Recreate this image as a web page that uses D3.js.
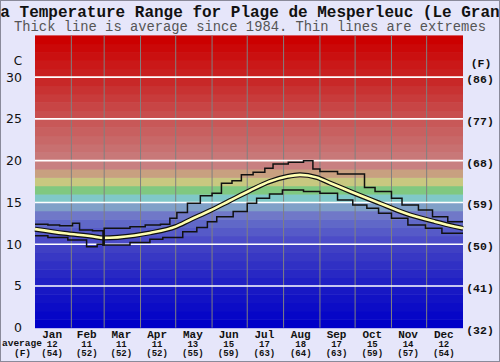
<!DOCTYPE html>
<html>
<head>
<meta charset="utf-8">
<script src="https://cdn.jsdelivr.net/npm/d3@7/dist/d3.min.js"></script>
<style>
  html, body { margin: 0; padding: 0; background: #e6e6fa; }
  svg { display: block; }
</style>
</head>
<body>
<script>
// ---------- data ----------
const title = "Sea Temperature Range for Plage de Mesperleuc (Le Grand)";
const subtitle = "Thick line is average since 1984. Thin lines are extremes";
const months = ["Jan","Feb","Mar","Apr","May","Jun","Jul","Aug","Sep","Oct","Nov","Dec"];
const monthDays = [31,28,31,30,31,30,31,31,30,31,30,31];
const monthAvgC = [12,11,11,11,13,15,17,18,17,15,14,12];
const monthAvgF = [54,52,52,52,55,59,63,64,63,59,57,54];
const cTicks = [0,5,10,15,20,25,30];
const fTickLabels = ["(32)","(41)","(50)","(59)","(68)","(77)","(86)"];

// average (smooth) : day of year -> °C
const avgDays = [0, 25, 51, 58, 85, 98, 120, 132, 149, 166, 183, 200, 215, 226, 240, 252, 269, 294, 316, 341, 365];
const avgVals = [11.8, 11.3, 10.9, 10.75, 11.05, 11.35, 12.1, 12.9, 14.0, 15.2, 16.4, 17.5, 18.1, 18.3, 18.0, 17.3, 16.3, 14.9, 13.7, 12.7, 11.9];

// extremes (step) : start day -> °C
const maxDays = [0, 11, 21, 32, 38, 49, 58, 59, 81, 94, 107, 115, 121, 130, 141, 151, 159, 168, 176, 186, 196, 203, 216, 229, 237, 243, 258, 281, 290, 304, 313, 327, 339, 352];
const maxVals = [12.4, 12.3, 12.2, 12.5, 11.7, 11.6, 9.9, 11.9, 12.1, 12.3, 12.4, 13.1, 13.8, 14.9, 15.8, 16.1, 17.3, 17.6, 18.3, 18.6, 19.1, 19.6, 19.8, 20.0, 19.0, 18.7, 18.4, 16.8, 16.3, 15.5, 14.7, 14.1, 13.3, 12.7];
const minDays = [0, 11, 28, 44, 53, 58, 81, 98, 109, 126, 138, 147, 155, 169, 181, 189, 200, 211, 229, 243, 258, 271, 283, 293, 304, 318, 333, 347];
const minVals = [11.0, 10.8, 10.5, 9.7, 10.0, 9.9, 10.2, 10.6, 10.8, 11.5, 12.0, 12.7, 13.3, 13.9, 14.9, 15.5, 16.0, 16.5, 16.3, 16.1, 15.3, 14.7, 14.3, 13.7, 13.1, 12.3, 11.9, 11.3];

// ---------- layout ----------
const W = 500, H = 362;
const plot = { left: 35, right: 463, top: 35.4, bottom: 327.7 };
const tMax = 35;

const svg = d3.select("body").append("svg").attr("width", W).attr("height", H);
svg.append("rect").attr("width", W).attr("height", H).attr("fill", "#e6e6fa");

const x = d3.scaleLinear().domain([0, 365]).range([plot.left, plot.right]);
const y = d3.scaleLinear().domain([0, tMax]).range([plot.bottom, plot.top]);

const bandColor = d3.scaleLinear()
  .domain([0, 4, 9, 10, 12, 13, 14, 15, 16, 17, 18, 19, 20, 24, 29, 34])
  .range(["#0000c8", "#1818c4", "#4040c4", "#4c4cc8", "#6068c8", "#7078c8", "#80a0c8", "#80c8c8",
          "#80c880", "#c8c880", "#c8a080", "#c88080", "#c87878", "#c85858", "#c82828", "#cc0000"]);

// temperature bands
const bands = d3.range(0, tMax);
svg.append("g").selectAll("rect").data(bands).join("rect")
  .attr("x", plot.left).attr("width", plot.right - plot.left)
  .attr("y", d => y(d + 1)).attr("height", d => y(d) - y(d + 1) + 0.5)
  .attr("fill", d => bandColor(d));

// month boundaries
const monthStart = [0];
monthDays.forEach((d, i) => monthStart.push(monthStart[i] + d));
svg.append("g").selectAll("line").data(monthStart.slice(1, 12)).join("line")
  .attr("x1", d => x(d)).attr("x2", d => x(d))
  .attr("y1", plot.top).attr("y2", plot.bottom)
  .attr("stroke", "#808080").attr("stroke-width", 1);

// white horizontal gridlines
svg.append("g").selectAll("line").data(cTicks.filter(t => t > 0)).join("line")
  .attr("x1", plot.left).attr("x2", plot.right)
  .attr("y1", d => y(d)).attr("y2", d => y(d))
  .attr("stroke", "#ffffff").attr("stroke-width", 1.6);

// average line
const avgData = avgDays.map((d, i) => [d, avgVals[i]]);
const avgLine = d3.line().x(d => x(d[0])).y(d => y(d[1])).curve(d3.curveMonotoneX);
svg.append("path").attr("d", avgLine(avgData)).attr("fill", "none")
  .attr("stroke", "#111").attr("stroke-width", 5);
svg.append("path").attr("d", avgLine(avgData)).attr("fill", "none")
  .attr("stroke", "#ffffb0").attr("stroke-width", 2.6);

// extremes
const stepLine = d3.line().x(d => x(d[0])).y(d => y(d[1])).curve(d3.curveStepAfter);
function stepData(days, vals) {
  const a = days.map((d, i) => [d, vals[i]]);
  a.push([365, vals[vals.length - 1]]);
  return a;
}
[[maxDays, maxVals], [minDays, minVals]].forEach(([d, v]) => {
  svg.append("path").attr("d", stepLine(stepData(d, v))).attr("fill", "none")
    .attr("stroke", "#111").attr("stroke-width", 1.5);
});

// ---------- text ----------
const mono = "'Liberation Mono', 'Courier New', monospace";
const sans = "'DejaVu Sans', Verdana, sans-serif";

svg.append("text").attr("x", 250).attr("y", 17).attr("text-anchor", "middle")
  .attr("font-family", mono).attr("font-weight", "bold").attr("font-size", 16)
  .attr("fill", "#111").text(title);
svg.append("text").attr("x", 250).attr("y", 31).attr("text-anchor", "middle")
  .attr("font-family", mono).attr("font-size", 13.8)
  .attr("fill", "#555").text(subtitle);

// left axis (C)
svg.append("text").attr("x", 18).attr("y", 65).attr("text-anchor", "middle")
  .attr("font-family", sans).attr("font-size", 12).attr("fill", "#111").text("C");
svg.append("g").selectAll("text").data(cTicks).join("text")
  .attr("x", 22).attr("y", d => y(d) + 4.5).attr("text-anchor", "end")
  .attr("font-family", sans).attr("font-size", 12.5).attr("fill", "#111")
  .text(d => d);

// right axis (F)
svg.append("text").attr("x", 481).attr("y", 67).attr("text-anchor", "middle")
  .attr("font-family", mono).attr("font-weight", "bold").attr("font-size", 11.5)
  .attr("fill", "#111").text("(F)");
svg.append("g").selectAll("text").data(cTicks).join("text")
  .attr("x", 480).attr("y", d => y(d) + 6).attr("text-anchor", "middle")
  .attr("font-family", mono).attr("font-weight", "bold").attr("font-size", 11.5)
  .attr("fill", "#111").text((d, i) => fTickLabels[i]);

// bottom labels
const mids = months.map((m, i) => x(monthStart[i] + monthDays[i] / 2) - 1);
const bottom = svg.append("g").attr("font-family", mono).attr("font-weight", "bold").attr("fill", "#111");
bottom.selectAll("text.m").data(months).join("text").attr("class", "m")
  .attr("x", (d, i) => mids[i]).attr("y", 337.5).attr("text-anchor", "middle")
  .attr("font-size", 11).text(d => d);
bottom.selectAll("text.c").data(monthAvgC).join("text").attr("class", "c")
  .attr("x", (d, i) => mids[i]).attr("y", 346.5).attr("text-anchor", "middle")
  .attr("font-size", 9).text(d => d);
bottom.selectAll("text.f").data(monthAvgF).join("text").attr("class", "f")
  .attr("x", (d, i) => mids[i]).attr("y", 355.5).attr("text-anchor", "middle")
  .attr("font-size", 9).text(d => "(" + d + ")");
bottom.append("text").attr("x", 2).attr("y", 346).attr("font-size", 9.5).text("average");
bottom.append("text").attr("x", 22.5).attr("y", 355.5).attr("text-anchor", "middle")
  .attr("font-size", 9.5).text("(F)");

// frame
svg.append("rect").attr("x", 0.5).attr("y", 0.5).attr("width", W - 1).attr("height", H - 1)
  .attr("fill", "none").attr("stroke", "#8a8a9a").attr("stroke-width", 1);
</script>
</body>
</html>
